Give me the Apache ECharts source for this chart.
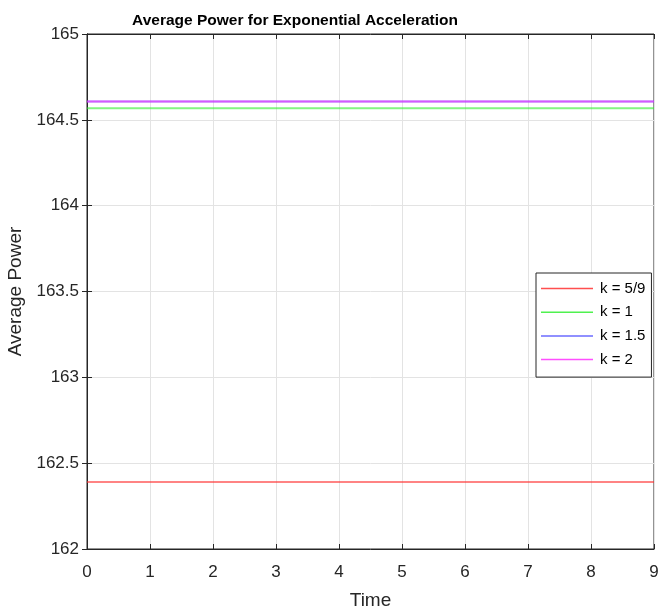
<!DOCTYPE html>
<html><head><meta charset="utf-8">
<script src="https://cdn.jsdelivr.net/npm/echarts@6/dist/echarts.min.js"></script>
<style>html,body{margin:0;padding:0;background:#fff}#c{width:659px;height:611px}</style>
</head><body><div id="c"></div>
<script>
const timeValues = [0, 1, 2, 3, 4, 5, 6, 7, 8, 9];
const seriesNames = ['k = 5/9', 'k = 1', 'k = 1.5', 'k = 2'];
const powerK59 = [162.39, 162.39, 162.39, 162.39, 162.39, 162.39, 162.39, 162.39, 162.39, 162.39];
const powerK1 = [164.567, 164.567, 164.567, 164.567, 164.567, 164.567, 164.567, 164.567, 164.567, 164.567];
const powerK15 = [164.607, 164.607, 164.607, 164.607, 164.607, 164.607, 164.607, 164.607, 164.607, 164.607];
const powerK2 = [164.607, 164.607, 164.607, 164.607, 164.607, 164.607, 164.607, 164.607, 164.607, 164.607];
const seriesValues = [powerK59, powerK1, powerK15, powerK2];
const colors = ['#ff3030', '#30ee30', '#5050ff', '#ff30ff'];

const chart = echarts.init(document.getElementById('c'));
const font = 'Liberation Sans, Arial, sans-serif';
const axisCommon = {
  axisLine: {show: true, lineStyle: {color: '#262626', width: 1}},
  axisTick: {show: true, inside: true, length: 5, lineStyle: {color: '#262626'}},
};
chart.setOption({
  animation: false,
  title: {text: 'Average Power for Exponential Acceleration', left: 290, top: 8, textAlign: 'center',
    textStyle: {fontFamily: font, fontSize: 15.5, fontWeight: 'bold', color: '#000'}},
  grid: {left: 87, right: 5, top: 34, bottom: 62, show: true, borderColor: '#262626', borderWidth: 1,
    containLabel: false, outerBoundsMode: 'none'},
  legend: {
    orient: 'vertical', left: 536, top: 273, 
    padding: [8, 6, 10, 5], itemGap: 8.7, itemWidth: 52, itemHeight: 1.5, icon: 'rect',
    itemStyle: {opacity: 0.85},
    borderColor: '#262626', borderWidth: 1, backgroundColor: '#fff', borderRadius: 0,
    textStyle: {fontFamily: font, fontSize: 15, color: '#000', padding: [0, 0, 0, 2]},
    data: seriesNames
  },
  xAxis: [{
    type: 'value', min: 0, max: 9, interval: 1, name: 'Time', nameLocation: 'middle', nameGap: 42,
    nameTextStyle: {fontFamily: font, fontSize: 19, color: '#262626'},
    axisLabel: {fontFamily: font, fontSize: 17, color: '#262626', margin: 15},
    splitLine: {show: true, lineStyle: {color: '#e3e3e3'}},
    ...axisCommon
  }, {
    type: 'value', min: 0, max: 9, interval: 1, position: 'top',
    axisLabel: {show: false}, splitLine: {show: false}, ...axisCommon
  }],
  yAxis: [{
    type: 'value', min: 162, max: 165, interval: 0.5, name: 'Average Power', nameLocation: 'middle', nameGap: 57,
    nameTextStyle: {fontFamily: font, fontSize: 19, color: '#262626'},
    axisLabel: {fontFamily: font, fontSize: 17, color: '#262626', margin: 8, formatter: v => String(+v.toFixed(1))},
    splitLine: {show: true, lineStyle: {color: '#e3e3e3'}},
    ...axisCommon
  }, {
    type: 'value', min: 162, max: 165, interval: 0.5, position: 'right',
    axisLabel: {show: false}, splitLine: {show: false}, ...axisCommon
  }],
  series: seriesNames.map((name, i) => ({
    name, type: 'line', showSymbol: false, symbol: 'none',
    data: timeValues.map((t, j) => [t, seriesValues[i][j]]),
    lineStyle: {color: colors[i], width: 2, opacity: 0.6},
    itemStyle: {color: colors[i]}
  }))
});
</script></body></html>
